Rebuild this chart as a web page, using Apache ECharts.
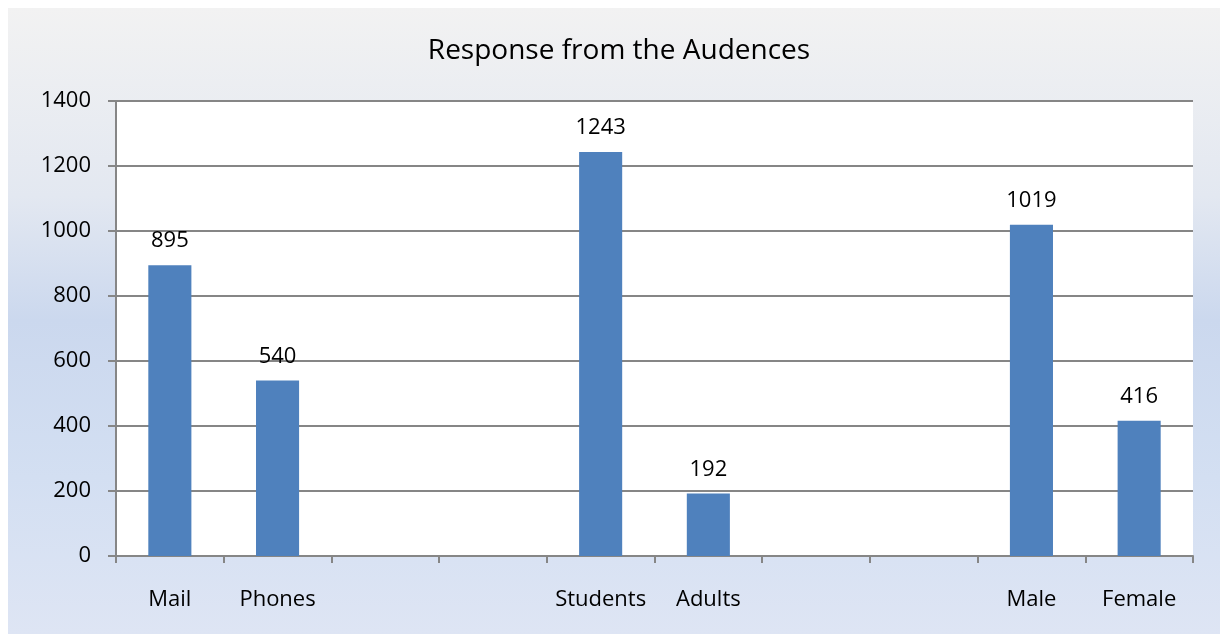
<!DOCTYPE html>
<html><head><meta charset="utf-8">
<script src="https://cdn.jsdelivr.net/npm/echarts@6/dist/echarts.min.js"></script>
<style>
html,body{margin:0;padding:0;background:#fff;}
#bg{position:absolute;left:8px;top:8px;width:1212px;height:626px;
background:linear-gradient(to bottom,#f2f2f2 0%,#e3e8f1 30%,#cbd8ee 50%,#d3dff2 75%,#dee5f4 100%);}
#c{position:absolute;left:0;top:0;width:1220px;height:634px;}
</style></head>
<body><div id="bg"></div><div id="c"></div>
<script>
const title = 'Response from the Audences';
const categories = ['Mail','Phones','','','Students','Adults','','','Male','Female'];
const values = [895, 540, null, null, 1243, 192, null, null, 1019, 416];
const yTicks = [0,200,400,600,800,1000,1200,1400];

const chart = echarts.init(document.getElementById('c'), null, {renderer:'canvas'});
const font = "'Open Sans', sans-serif";
chart.setOption({
  backgroundColor:'transparent',
  animation:false,
  title:{text:title,left:614,top:32,textAlign:'center',
    textStyle:{fontFamily:font,fontSize:28,fontWeight:'normal',color:'#000'}},
  grid:{left:116,right:27,top:101,bottom:78,containLabel:false,
    show:true,backgroundColor:'#fff',borderWidth:0},
  xAxis:{type:'category',data:categories,
    axisLine:{show:true,lineStyle:{color:'#868686',width:2}},
    axisTick:{show:true,length:7,alignWithLabel:false,lineStyle:{color:'#868686',width:2}},
    axisLabel:{interval:0,margin:33,fontFamily:font,fontSize:22,color:'#000'}},
  yAxis:{type:'value',min:yTicks[0],max:yTicks[yTicks.length-1],interval:200,
    axisLine:{show:true,lineStyle:{color:'#868686',width:2}},
    axisTick:{show:true,length:8,lineStyle:{color:'#868686',width:2}},
    splitLine:{lineStyle:{color:'#868686',width:2}},
    axisLabel:{margin:25,fontFamily:font,fontSize:22,color:'#000',formatter:v=>String(v)}},
  series:[{type:'bar',data:values,barWidth:'40%',
    itemStyle:{color:'#4f81bd'},
    label:{show:true,position:'top',distance:13,fontFamily:font,fontSize:22,color:'#000'}}]
});
</script></body></html>
